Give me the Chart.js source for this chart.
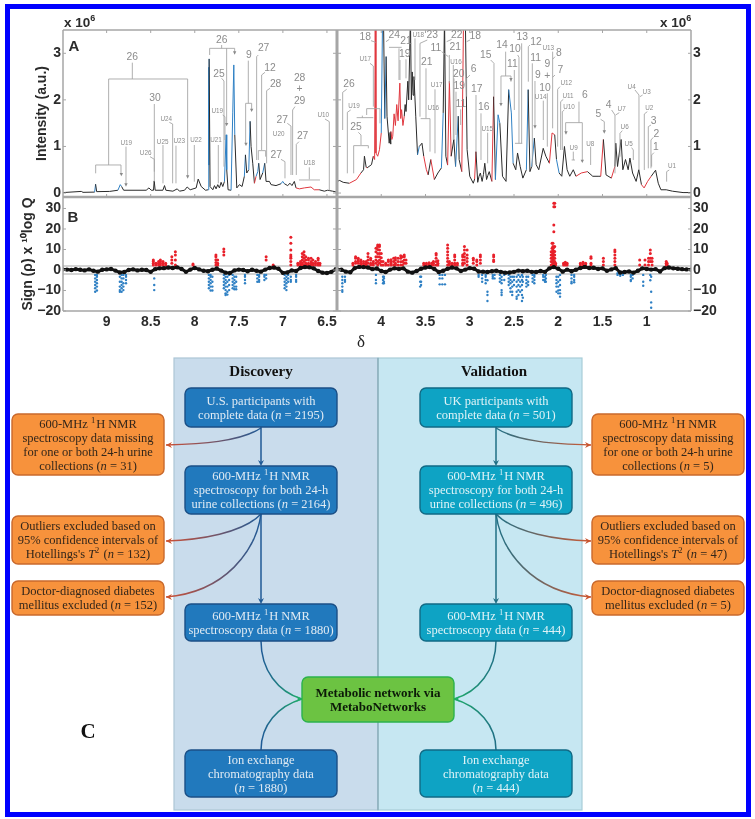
<!DOCTYPE html>
<html>
<head>
<meta charset="utf-8">
<style>
  html, body { margin: 0; background: #fff; }
  #page { position: relative; width: 755px; height: 819px; overflow: hidden; }
  #nmrChart { position: absolute; left: 0; top: 0; filter: blur(0.45px); }
  #overlay { position: absolute; left: 0; top: 0; filter: blur(0.35px); }
</style>
<script src="https://cdn.jsdelivr.net/npm/chart.js@4/dist/chart.umd.js"></script>
</head>
<body>
<div id="page">
  <canvas id="nmrChart" width="755" height="345" style="width:755px;height:345px"></canvas>
  <svg id="overlay" width="755" height="819" viewBox="0 0 755 819"></svg>
</div>
<script>
// tick labels
const xTicksLeft = [9, 8.5, 8, 7.5, 7, 6.5];
const xTicksRight = [4, 3.5, 3, 2.5, 2, 1.5, 1];
const yTicksA = [0, 1, 2, 3];
const yTicksB = [-20, -10, 0, 10, 20, 30];
const thresholds = [2, -2];

// panel A spectrum: [delta, intensity (x 10^6), correlation sign]
const specLeft = [
  [9.495,.01,0],[9.287,.035,0],[9.268,.015,0],[9.136,.02,0],[9.125,.19,-1],[9.113,.03,0],[8.966,.035,0],[8.872,.06,0],
  [8.845,.18,-1],[8.83,.14,-1],[8.807,.06,0],[8.551,.06,0],[8.52,.11,0],[8.494,.06,0],[8.468,.06,0],[8.46,.26,0],
  [8.449,.06,0],[8.362,.06,0],[8.343,.16,0],[8.328,.06,0],[8.248,.04,0],[8.199,.09,0],[8.173,.04,0],[8.116,.06,0],
  [8.086,.13,0],[8.052,.07,0],[7.984,.11,0],[7.961,.3,0],[7.927,.14,0],[7.878,.06,0],[7.848,.07,0],[7.842,2.7,-1],
  [7.84,.6,-1],[7.837,2.88,-1],[7.826,.14,0],[7.795,.07,0],[7.776,.16,0],[7.758,.09,0],[7.739,.18,0],[7.72,.11,0],
  [7.701,.23,0],[7.682,.14,0],[7.663,.25,0],[7.644,1.25,-1],[7.637,.5,-1],[7.622,.07,0],[7.588,.06,0],[7.569,1.72,-1],
  [7.557,2.75,-1],[7.546,1.25,-1],[7.523,.11,0],[7.493,.18,0],[7.463,.14,0],[7.437,.36,0],[7.425,.82,-1],[7.41,.43,0],
  [7.387,.5,0],[7.372,1.54,-1],[7.361,1,0],[7.342,.64,0],[7.323,.21,0],[7.304,.36,1],[7.285,.46,-1],[7.274,.64,-1],
  [7.259,.29,0],[7.229,.43,0],[7.206,.64,-1],[7.191,.25,0],[7.153,.25,0],[7.134,.18,0],[7.078,.16,0],[7.021,.2,0],
  [7.002,.25,-1],[6.983,.2,-1],[6.946,.16,0],[6.919,.21,0],[6.897,.16,0],[6.87,.25,0],[6.851,.11,0],[6.813,.09,1],
  [6.757,.11,1],[6.681,.13,1],[6.644,.07,1],[6.587,.07,1],[6.53,.04,0],[6.492,.06,0],[6.436,.04,0],[6.387,.02,0]
];
const specRight = [
  [4.5,.25,0],[4.47,.27,0],[4.43,.23,0],[4.36,.21,0],[4.28,.29,1],[4.23,.43,1],[4.2,.5,0],[4.19,.79,0],[4.17,.55,0],
  [4.16,.54,1],[4.11,.61,0],[4.09,.79,0],[4.075,.72,1],[4.068,3.8,1],[4.06,.86,1],[4.04,.79,1],[4.02,.93,1],[4,1.29,1],
  [3.985,3.8,-1],[3.975,3.8,0],[3.96,1.6,0],[3.945,2.93,-1],[3.935,1.65,0],[3.91,1.07,0],[3.9,1.3,0],[3.895,1.05,0],[3.89,1.32,0],
  [3.88,1.15,1],[3.87,1.22,1],[3.855,1.7,1],[3.84,1.45,1],[3.825,1.9,1],[3.81,1.55,1],[3.79,2.36,1],[3.78,1.6,1],[3.77,1.79,1],
  [3.755,1.45,1],[3.74,1.65,1],[3.73,1.9,0],[3.72,1.75,0],[3.7,2.4,0],[3.69,2,0],[3.68,2.9,0],[3.67,3.8,0],[3.66,2,0],[3.65,2.6,0],
  [3.64,2.1,0],[3.63,2.5,0],[3.61,1.65,0],[3.59,.82,0],[3.57,1,-1],[3.54,1.07,0],[3.52,.79,0],[3.49,.5,1],[3.47,.39,1],[3.44,.72,0],
  [3.4,.29,1],[3.36,.43,0],[3.32,.54,0],[3.3,1.72,-1],[3.285,3.8,0],[3.27,.79,0],[3.25,.6,0],[3.23,2.4,1],[3.21,.79,1],
  [3.18,1.15,0],[3.16,.57,0],[3.13,1.65,-1],[3.12,.72,0],[3.09,.46,0],[3.07,3.8,1],[3.05,3.8,1],[3.03,.93,0],[3,.36,0],
  [2.96,.21,0],[2.945,.3,0],[2.93,.89,1],[2.91,.23,0],[2.895,.36,0],[2.88,.43,0],[2.86,.25,0],[2.845,.4,0],[2.83,.64,0],[2.81,.29,0],
  [2.795,.38,0],[2.78,.46,0],[2.75,.25,0],[2.73,2.07,1],[2.71,.29,0],[2.68,1.68,-1],[2.66,1.5,-1],[2.63,.36,0],[2.59,.25,0],[2.56,2.22,0],
  [2.53,1.72,-1],[2.51,.64,-1],[2.48,.5,0],[2.46,.86,0],[2.43,.57,0],[2.4,.32,0],[2.36,.5,0],[2.34,2.22,-1],[2.32,.46,0],[2.3,.57,0],
  [2.27,1.18,-1],[2.25,.61,0],[2.22,.5,0],[2.17,.96,0],[2.14,.79,0],[2.1,.64,0],[2.07,1.29,1],[2.04,1.25,1],[2.02,.72,0],[1.99,.43,-1],
  [1.96,.36,0],[1.93,1,0],[1.9,.5,0],[1.87,.36,0],[1.83,.5,0],[1.8,.36,0],[1.74,.43,1],[1.67,.46,1],[1.61,.36,0],[1.55,.36,0],
  [1.52,.36,0],[1.49,1.15,1],[1.46,.39,0],[1.4,.32,0],[1.36,.57,1],[1.35,1.07,0],[1.33,.57,0],[1.29,1.15,0],[1.27,.5,0],
  [1.24,.72,0],[1.21,.5,0],[1.19,.75,0],[1.16,.43,0],[1.12,.25,0],[1.09,.5,0],[1.06,.18,0],[1.03,.11,1],[.99,.25,1],[.95,.36,1],
  [.9,.49,0],[.87,.21,0],[.84,.07,0],[.78,.07,0],[.71,.04,0],[.59,.01,0],[.5,.01,0]
];

// panel B: black band [delta, value]
const bandLeft = [
  [9.5,.3],[9.45,.2],[9.4,0],[9.35,.4],[9.3,.1],[9.25,-.2],[9.2,.3],[9.15,-.4],[9.1,-.8],[9.05,.1],[9,.3],[8.95,.5],[8.9,-.3],
  [8.85,-1.2],[8.8,-1],[8.75,0],[8.7,.3],[8.65,-.2],[8.6,.1],[8.55,0],[8.5,-.9],[8.45,.4],[8.4,.8],[8.35,.9],[8.3,1.2],[8.25,1],
  [8.2,1.3],[8.15,.5],[8.1,-.9],[8.05,.2],[8,1],[7.95,.3],[7.9,-.4],[7.85,-.6],[7.8,.1],[7.75,.7],[7.7,-.3],[7.65,-1.3],[7.6,-1.5],
  [7.55,-.2],[7.5,.2],[7.45,0],[7.4,-.6],[7.35,.1],[7.3,-.4],[7.25,-.8],[7.2,.2],[7.15,1],[7.1,1.2],[7.05,.6],[7,-1.4],[6.95,-1.2],
  [6.9,-.2],[6.85,-.5],[6.8,1],[6.75,1.4],[6.7,1.3],[6.65,.8],[6.6,-.5],[6.55,-1.3],[6.5,-1.5],[6.45,-.9],[6.4,.4]
];
const bandRight = [
  [4.5,.3],[4.45,.1],[4.4,-.8],[4.35,-1.1],[4.3,.9],[4.25,1.5],[4.2,1.4],[4.15,1.2],[4.1,.4],[4.05,.7],[4,-.5],[3.95,-1],[3.9,.2],
  [3.85,.8],[3.8,.5],[3.75,.8],[3.7,-.8],[3.65,-1.3],[3.6,-.5],[3.55,.6],[3.5,1.2],[3.45,1.4],[3.4,.5],[3.35,-1],[3.3,-.4],[3.25,.6],
  [3.2,1.2],[3.15,.8],[3.1,-.5],[3.05,.2],[3,.9],[2.95,.6],[2.9,-.7],[2.85,-.8],[2.8,-1],[2.75,-.6],[2.7,-.4],[2.65,-.9],[2.6,-1.3],
  [2.55,-1.2],[2.5,-.9],[2.45,-.3],[2.4,-.6],[2.35,-.4],[2.3,-.9],[2.25,-1],[2.2,-.5],[2.15,-.9],[2.1,.8],[2.05,1.4],[2,.6],[1.95,-.8],
  [1.9,.2],[1.85,-.6],[1.8,.1],[1.75,1],[1.7,1.5],[1.65,1],[1.6,1.1],[1.55,.5],[1.5,.8],[1.45,-.4],[1.4,.3],[1.35,.9],[1.3,-1.2],
  [1.25,-1],[1.2,-.7],[1.15,-1.3],[1.1,-.4],[1.05,.8],[1,.5],[.95,.2],[.9,.4],[.85,-.7],[.8,.9],[.75,1.2],[.7,.8],[.65,.6],[.6,.4],
  [.55,.3],[.5,.2]
];

// panel B: positive and negative columns [delta, [values]]
const posLeft = [
  [8.47,[2.4,3.3,4.1,4.9]],[8.44,[2.4,3.3]],[8.41,[2.4,3.3,4.1]],[8.39,[2.4,3.3,4.1,4.9]],[8.36,[2.4,3.3,4.1]],[8.33,[2.4,3.3]],
  [8.26,[3.3,4.9,6.5]],[8.22,[2.4,4.9,7.3,8.9]],[8.02,[2.4,2.9]],[7.76,[2.4,3.6,5,6.5,7.3]],[7.74,[2.4,3.3,4.9]],[7.67,[7.3,8.9,10.2]],
  [7.19,[4.9,6.5]],[7.11,[2,2.4]],[6.91,[2.4,4.1,5.7,6.5,7.3,9.8,13,16]],[6.83,[2.4,3.3]],[6.8,[2.4,3.3,4.1]],[6.78,[2.4,3.3,4.9,6.5,8.1]],
  [6.76,[2.4,4.1,5.7,7.3,8.9]],[6.74,[2.4,3.3,4.9,6.5]],[6.71,[2.4,3.3,4.9,5.7]],[6.68,[2.4,3.3,4.1,5.7]],[6.66,[2.4,3.3,4.9]],
  [6.63,[2.4,3.3,4.1]],[6.6,[2.4,3.3,4.9,5.7]],[6.58,[2.4,3.3]]
];
const posRight = [
  [4.32,[2.4,3.3]],[4.29,[3.3,4.1,5.7,6.5]],[4.26,[3.3,4.1,4.9,5.7]],[4.23,[2.4,3.3,4.1,4.9]],[4.2,[2.4,3.3,4.1]],[4.17,[2.4,3.3,4.1]],
  [4.15,[3.3,4.9,6.5,8.1]],[4.12,[2.4,3.3,4.9,5.7]],[4.09,[2.4,3.3,4.1]],[4.06,[3.3,4.9,6.5,8.9,10.6]],[4.04,[2.4,4.1,6.5,8.1,10,11.4,12.2]],
  [4.02,[3.3,4.9,6.5,8.1,9.8,11.4,12.2]],[4,[2.4,4.1,6,8.1]],[3.98,[2.4,4.1]],[3.95,[2.4,3.3]],[3.92,[2.4,4.1,4.9]],[3.89,[2.4,3.3,4.1,5]],
  [3.86,[2.4,4.1,5.7]],[3.84,[2.4,3.3,4.9,6]],[3.81,[2.4,4.1,5.7]],[3.78,[2.4,4,5.7,7]],[3.76,[2.4,4.1,6.5]],[3.74,[3.3,4.9,6.5,7.3]],[3.72,[3.3,4.9]],
  [3.52,[2.4,3.3]],[3.49,[2.4,3.3]],[3.46,[2.6,3.5]],[3.43,[2.4,3.3]],[3.41,[2.4,3.3,4.1]],[3.38,[2.4,4.1,5.7,7.3,8.1]],[3.36,[2.4,3.3,4.5]],
  [3.25,[2.4,4.1,5.7,7.3,8.9,10.6,12.2]],[3.23,[2.4,3.3,4.1]],[3.2,[2.4,3.3]],[3.17,[2.4,3.3,4.9,6.5,7.3]],[3.14,[2.4,3.3]],
  [3.08,[2.4,3.3,4.9,6.5,7.3]],[3.06,[3.3,4.9,6.5,8.1,9.8,11.4]],[3.03,[2.4,4.1,5.7,7.3,9.8]],[2.96,[3.3,4.9,5.7]],[2.92,[2.4,4.1,4.9]],
  [2.88,[3.3,4.9,6.5,7.3]],[2.73,[4.1,4.9,6.5,7.3]],[2.08,[2.4,4.1,5.7,7.3,8.9]],[2.07,[2.4,4,5.7,7.3,8.9,10.6,13]],[2.06,[3.3,4.9,6.5,8.1,9.8,11.4,13]],
  [2.05,[2.4,4.1,5.7,7.3,9,11,18.7,22,30.9,32.5]],[2.04,[2.4,4.1,5.7,7.3,9,11.4,30.9,32.5]],[2.03,[2.4,3.3]],[1.94,[2.4,3.3]],[1.92,[2.4,3.3,3.8]],
  [1.9,[2.4,3.3]],[1.75,[2.4,3.3]],[1.72,[2.4,3.3,3.8]],[1.69,[2.4,3.3]],[1.63,[2.4,3.3,5.7,6.5]],[1.49,[2.4,4.1,5.7]],[1.36,[2.4,4.1,5.7,7.3,8.9,9.8]],
  [1.08,[2.4,4.9]],[1.02,[2.4,4.9]],[.98,[2.4,4.1,5.7]],[.96,[4.1,5.7,8.1,9.8]],[.94,[2.4,4.1,5.7]],[.78,[2.4,3.3,4.1]],[.77,[2.4,3.3]]
];
const negLeft = [
  [9.13,[-2.4,-4.1,-5.7,-7.3,-8.9,-10.6]],[9.11,[-2.4,-3.3,-4.9,-6.5,-8.1,-10]],[8.85,[-3.3,-5.7,-8.1,-9.8,-10.6]],[8.83,[-2.4,-4.1,-5.7,-7.3,-8.9,-10.6]],
  [8.81,[-2.4,-4.1,-6.5,-8.1,-9.8]],[8.78,[-2.4,-3.3,-4.9,-6.5]],[8.46,[-4.1,-7.3,-9.8]],[7.84,[-2.4,-4.1,-5.7,-7.3,-8.9]],[7.82,[-2.4,-3.3,-4.9,-6.5,-8.1,-10]],
  [7.8,[-3.3,-5.7,-8.1,-10]],[7.67,[-2.4,-4.1,-5.7,-7.3,-8.9]],[7.65,[-3.3,-4.9,-6.5,-8.1,-9.8,-11.4,-12.2]],[7.63,[-3.3,-5.7,-8.1,-10.6,-12]],[7.61,[-2.4,-4.9,-7.3,-9.8]],
  [7.57,[-2.4,-4.1,-5.7,-7.3,-8.9]],[7.55,[-3.3,-4.9,-6.5,-8.1,-9.4]],[7.53,[-3.3,-5.7,-8.1,-9.4]],[7.43,[-2.4,-3.3,-4.9,-6.5]],[7.29,[-2.4,-4.1,-5.7]],
  [7.27,[-2.4,-3.3,-4.9,-5.7]],[7.21,[-2.4,-3.3,-4.9]],[7.19,[-2.4,-4.1]],[6.98,[-2.4,-4.1,-5.7,-7.3,-8.9]],[6.96,[-3.3,-4.9,-6.5,-8.1,-9.8]],[6.94,[-2.4,-4.1,-5.7]],
  [6.91,[-3.3,-4.9,-5.7]],[6.85,[-2.4,-3.3,-4.9,-5.7]]
];
const negRight = [
  [4.44,[-3.3,-4.9,-6.5,-8.1,-9.8,-10.6]],[4.41,[-3.3,-4.9,-5.7]],[4.06,[-2.4,-4.9,-6.5]],[3.98,[-3.3,-4.9,-6.5]],[3.97,[-3.3,-4.1,-5.7,-6.5]],
  [3.56,[-3.3,-5.7,-8.1]],[3.55,[-3.3,-5.7,-7.3]],[3.34,[-2.4,-4.1,-7]],[3.31,[-2.4,-4.1,-7]],[3.28,[-2.4,-7]],[2.9,[-2.4,-3.3]],[2.86,[-2.4,-4.1,-5.7]],
  [2.82,[-2.4,-3.3,-4.9,-6.5]],[2.8,[-5,-10.6,-12.2,-15.1]],[2.74,[-2.4,-3.3,-4.1]],[2.72,[-2.4,-4.1]],[2.66,[-2.4,-4.1,-5.7]],[2.64,[-3.3,-4.9,-6.5,-9.8,-11,-12.2]],
  [2.61,[-2.4,-4.9]],[2.56,[-2.4,-4.1,-5.7,-7.3]],[2.54,[-3.3,-4.9,-6.5,-8.9,-10.6]],[2.52,[-3.3,-5.7,-8.1,-10.6,-12.2]],[2.5,[-3.3,-4.9,-7.3]],
  [2.47,[-3.3,-5.7,-8.1,-10.6,-13,-14]],[2.45,[-2.4,-4.9,-7.3,-9.8,-12.2]],[2.43,[-3.3,-5.7,-8.1,-10.6]],[2.41,[-2.4,-4.9,-7.3,-9.8,-12.2,-15.1]],[2.4,[-3.3,-5.7,-13.5]],
  [2.36,[-3.3,-4.9,-6.5,-8.1]],[2.34,[-3.3,-5.7,-7.3]],[2.29,[-2.4,-4.1,-5.7]],[2.27,[-2.4,-3.3,-4.9,-6.5]],[2.17,[-2.4,-3.3,-4.9]],[2.15,[-3.3,-4.9,-5.7]],[2.14,[-2.4,-4.1,-5.7]],
  [2.02,[-3.3,-4.9,-6.5,-8.1,-10.6]],[2,[-3.3,-5.7,-8.1,-10,-11.4]],[1.98,[-2.4,-4.9,-7.3,-9.8,-11.4,-13]],[1.85,[-2.4,-4.1,-5.7,-6.5]],[1.82,[-2.4,-3.3,-4.9,-6]],
  [1.33,[-1.6,-2.4]],[1.3,[-1.9,-2.8]],[1.27,[-1.6,-2.4]],[1.18,[-2.4,-3.3,-4.9,-5.4]],[1.16,[-2.4,-4.1]],[1.04,[-2.4,-5.7,-7.7]],[.96,[-2.4,-5]],[.95,[-3.3,-10.6,-15.8,-18.4]]
];

const RED = "#e8202a";
const BLUE = "#2f80c4";
const GREY = "#a6a6a6";
const signColour = { "0": "#2a2a2a", "1": "#e0383f", "-1": "#2f80c4" };

const pairPoints = rows => rows.map(r => ({ x: r[0], y: r[1] }));
const columnPoints = rows => rows.flatMap(r => r[1].map(v => ({ x: r[0], y: v })));

function specDataset(rows, xAxisID) {
  return {
    data: pairPoints(rows),
    xAxisID,
    yAxisID: "yA",
    showLine: true,
    borderWidth: 1,
    pointRadius: 0,
    borderColor: signColour["0"],
    segment: { borderColor: ctx => signColour[rows[ctx.p1DataIndex][2]] },
  };
}

function pointDataset(points, xAxisID, colour, radius) {
  return {
    data: points,
    xAxisID,
    yAxisID: "yB",
    showLine: false,
    pointRadius: radius,
    pointBorderWidth: 0,
    pointBackgroundColor: colour,
  };
}

function bandDataset(rows, xAxisID) {
  return {
    data: pairPoints(rows),
    xAxisID,
    yAxisID: "yB",
    showLine: true,
    borderWidth: 3,
    borderColor: "#111",
    pointRadius: 2.2,
    pointBorderWidth: 0,
    pointBackgroundColor: "#111",
  };
}

const labelFont = { family: "'Liberation Sans', Arial, sans-serif", size: 14, weight: "bold" };

function xScale(min, max, ticks, weight) {
  return {
    type: "linear",
    position: "bottom",
    stack: "delta",
    stackWeight: weight,
    reverse: true,
    min,
    max,
    grid: { display: false, drawTicks: false },
    border: { display: false },
    afterBuildTicks: s => { s.ticks = ticks.map(value => ({ value })); },
    afterFit: s => { s.height = 22; },
    ticks: { font: labelFont, color: "#2b2b2b", padding: 3, autoSkip: false, maxRotation: 0, callback: v => String(v) },
  };
}

function yScale(position, stack, min, max, ticks, weight, width, title) {
  const opts = {
    type: "linear",
    position,
    stack,
    stackWeight: weight,
    min,
    max,
    grid: { display: false, drawTicks: false },
    border: { display: false },
    afterBuildTicks: s => { s.ticks = ticks.map(value => ({ value })); },
    afterFit: s => { s.width = width; },
    ticks: { font: labelFont, color: "#2b2b2b", padding: 2, autoSkip: false, callback: v => String(v).replace("-", "\u2212") },
  };
  if (title) opts.title = title;
  return opts;
}

const framePlugin = {
  id: "frame",
  beforeDatasetsDraw(chart) {
    const { ctx, scales } = chart;
    ctx.save();
    ctx.strokeStyle = "#c4c4c4";
    ctx.lineWidth = 1.5;
    thresholds.forEach(t => {
      const y = scales.yB.getPixelForValue(t);
      ctx.beginPath();
      ctx.moveTo(scales.xL.left, y);
      ctx.lineTo(scales.xR.right, y);
      ctx.stroke();
    });
    ctx.restore();
  },
  afterDatasetsDraw(chart) {
    const { ctx, scales } = chart;
    const { xL, xR, yA, yB } = scales;
    const line = (x1, y1, x2, y2, w) => {
      ctx.lineWidth = w;
      ctx.beginPath();
      ctx.moveTo(x1, y1);
      ctx.lineTo(x2, y2);
      ctx.stroke();
    };
    ctx.save();
    ctx.strokeStyle = GREY;
    line(xL.left, yA.top, xR.right, yA.top, 1.5);
    line(xL.left, yA.bottom, xR.right, yA.bottom, 2.5);
    line(xL.left, yB.bottom, xR.right, yB.bottom, 1.5);
    line(xL.left, yA.top, xL.left, yB.bottom, 1.5);
    line(xR.right, yA.top, xR.right, yB.bottom, 1.5);
    line(xL.right, yA.top, xL.right, yB.bottom, 3);
    [xL, xR].forEach(sc => sc.ticks.forEach(t => {
      const x = sc.getPixelForValue(t.value);
      line(x, yA.top, x, yA.top + 3, 1);
      line(x, yA.bottom, x, yA.bottom - 3, 1);
    }));
    [yA, yB].forEach(sc => sc.ticks.forEach(t => {
      const y = sc.getPixelForValue(t.value);
      line(xL.left, y, xL.left + 3, y, 1);
      line(xL.right - 4, y, xL.right + 4, y, 1);
      line(xR.right, y, xR.right - 3, y, 1);
    }));
    ctx.restore();
  },
};

new Chart(document.getElementById("nmrChart"), {
  type: "scatter",
  data: {
    datasets: [
      bandDataset(bandLeft, "xL"),
      bandDataset(bandRight, "xR"),
      pointDataset(columnPoints(posLeft), "xL", RED, 1.5),
      pointDataset(columnPoints(posRight), "xR", RED, 1.5),
      pointDataset(columnPoints(negLeft), "xL", BLUE, 1.2),
      pointDataset(columnPoints(negRight), "xR", BLUE, 1.2),
      specDataset(specLeft, "xL"),
      specDataset(specRight, "xR"),
    ],
  },
  options: {
    responsive: false,
    animation: false,
    events: [],
    layout: { padding: { left: 5, right: 14, top: 30, bottom: 12 } },
    plugins: { legend: { display: false }, tooltip: { enabled: false } },
    scales: {
      xL: xScale(6.386, 9.495, xTicksLeft, 274),
      xR: xScale(0.5, 4.5, xTicksRight, 354),
      yB: yScale("left", "left", -20, 35.6, yTicksB, 114, 58, {
        display: true, text: "Sign (\u03c1) x \u00b9\u2070log Q", font: { family: labelFont.family, size: 14, weight: "bold" }, color: "#2b2b2b", padding: { top: 15 },
      }),
      yA: yScale("left", "left", -0.085, 3.5, yTicksA, 167, 58, {
        display: true, text: "Intensity (a.u.)", font: { family: labelFont.family, size: 14, weight: "bold" }, color: "#2b2b2b", padding: { top: 29 },
      }),
      yAr: yScale("right", "right", -0.085, 3.5, yTicksA, 167, 50),
      yBr: yScale("right", "right", -20, 35.6, yTicksB, 114, 50),
    },
  },
  plugins: [framePlugin],
});

// peak annotations of panel A, laid out at 3x for readability
const leftPeakLabels = [
  ["26",397,170],["U19",379,428],["U26",437,458],["30",465,292],["U25",488,425],["U24",499,357],["U23",538,423],["U22",588,418],
  ["26",665,120],["25",657,220],["U19",652,333],["U21",648,420],["9",747,165],["27",791,142],["12",810,204],["28",827,250],
  ["28",899,232],["+",899,267],["29",899,302],["27",847,358],["U20",836,401],["27",908,408],["27",829,463],["U18",928,489],["U10",970,344],
];
const leftLeaders = [
  "M397,188V237M326,237H563M326,237V495M563,237V530M287,520V495H363V520","M378,440V555","M450,470L463,478V515","M463,312V545","M489,435V550",
  "M508,367L518,372V550","M528,437V550","M583,435V545","M665,135V145M629,145H704M629,145V165M704,145V160M680,145V370","M665,235L672,243V500",
  "M668,345L675,350V420","M655,435V550","M745,182V310M737,310H755V330M737,310V430","M775,165L770,170V480","M795,217L785,225V450M775,452H797V470M775,452V480",
  "M810,265L800,272V490","M885,320L878,330V525","M862,370L873,378V525","M889,433V525M897,425L889,433","M843,478L855,485V535","M928,502V538M897,540H960","M975,357L988,365V572",
];
const leftArrows = [[364,525],[378,556],[563,532],[680,375],[704,160],[755,332],[738,434]];
const rightPeakLabels = [
  ["26",57,250],["U19",72,318],["25",78,380],["U17",106,177],["18",106,110],["24",193,105],["21",228,122],["19",224,160],["U18",265,103],
  ["23",307,105],["21",290,184],["U17",320,254],["U16",310,322],["11",318,142],["21",376,140],["22",380,105],["U16",378,184],["20",386,221],
  ["19",388,258],["11",393,312],["18",436,108],["6",431,207],["17",440,265],["16",461,320],["15",467,165],["U15",472,385],["14",516,135],
  ["10",555,145],["13",577,110],["11",547,190],["12",618,124],["11",617,173],["9",624,225],["9",652,190],["+",652,226],["10",645,262],["U14",632,289],
  ["U13",655,143],["8",687,157],["7",691,210],["U12",709,248],["U11",714,287],["U10",717,319],["6",765,283],["U9",731,442],["U8",781,430],
  ["5",805,340],["4",836,315],["U7",875,327],["U6",884,380],["U5",896,432],["U4",905,259],["U3",950,275],["U2",958,323],["3",971,361],
  ["2",979,400],["1",978,440],["U1",1026,498],
];
const rightLeaders = [
  "M50,268L38,277V390","M62,330L52,337V520","M85,397L93,405V435M71,437H115V445M71,437V520","M120,190L130,198V320M110,326H150V370M110,326V345M80,353H130M97,347V353",
  "M123,122L137,127","M178,118L168,125","M177,142H215M207,145V240","M228,178V235M210,180V240","M255,115V240","M292,120L270,130V350","M288,205V355M272,356H300V455",
  "M315,268V460","M335,155L355,170","M358,165V250","M365,118L350,125","M370,195V420","M372,235V420","M378,275V405","M392,328V375","M420,120L410,125","M420,225L410,235V290",
  "M438,285V455","M453,340V480","M482,180L492,190V290","M473,398V490","M527,155V228M513,228H543V245M513,228V310","M563,165L567,172V430","M575,130V430M555,430H577","M553,210V330",
  "M600,135L595,140V245","M607,190V500","M615,243V380","M640,302V420","M652,280V440","M668,155V385M675,170L668,178M675,225L668,232","M690,260L683,268V440","M700,298L692,305V450",
  "M703,330L697,335V450","M747,305V368M707,368H757V485M707,368V400","M730,455V480M725,480H735","M782,440V495","M812,358L823,365V395","M845,330L855,345V520","M868,338L857,345","M877,392L870,400V470",
  "M905,443L910,450V480","M915,270L927,285V510","M938,285L930,290","M952,335L943,342V510","M963,375L955,380V505","M970,412L963,420V505","M972,458L965,465V500","M1018,510L1010,515V545",
];
const rightArrows = [[543,240],[513,315],[615,382],[708,400],[757,485],[823,397]];

function annotationGroup(labels, leaders, arrows, dx) {
  const lines = leaders.map(d => `<path d="${d}" fill="none" stroke="#a2a2a2" stroke-width="2.6"/>`).join("");
  const marks = arrows.map(a => `<path d="M${a[0] - 5},${a[1] - 6}h10l-5,10z" fill="#8a8a8a"/>`).join("");
  const texts = labels.map(l => {
    const small = l[0][0] === "U";
    return `<text x="${l[1]}" y="${l[2]}" font-size="${small ? 19 : 31}" fill="#8c8c8c" text-anchor="middle" dominant-baseline="central">${l[0]}</text>`;
  }).join("");
  return `<g transform="translate(${dx},0) scale(0.3333)" font-family="'Liberation Sans',Arial,sans-serif">${lines}${marks}${texts}</g>`;
}

// flow chart
const blueBoxes = [
  [185,388,152,39,["U.S. participants with","complete data (<i>n</i> = 2195)"]],
  [185,466,152,48,["600-MHz <s>1</s>H NMR","spectroscopy for both 24-h","urine collections (<i>n</i> = 2164)"]],
  [185,604,152,37,["600-MHz <s>1</s>H NMR","spectroscopy data (<i>n</i> = 1880)"]],
  [185,750,152,47,["Ion exchange","chromatography data","(<i>n</i> = 1880)"]],
];
const tealBoxes = [
  [420,388,152,39,["UK participants with","complete data (<i>n</i> = 501)"]],
  [420,466,152,48,["600-MHz <s>1</s>H NMR","spectroscopy for both 24-h","urine collections (<i>n</i> = 496)"]],
  [420,604,152,37,["600-MHz <s>1</s>H NMR","spectroscopy data (<i>n</i> = 444)"]],
  [420,750,152,47,["Ion exchange","chromatography data","(<i>n</i> = 444)"]],
];
const orangeBoxes = [
  [12,414,152,61,["600-MHz <s>1</s>H NMR","spectroscopy data missing","for one or both 24-h urine","collections (<i>n</i> = 31)"]],
  [12,516,152,48,["Outliers excluded based on","95% confidence intervals of","Hotellings's <i>T</i><s>2</s> (<i>n</i> = 132)"]],
  [12,581,152,34,["Doctor-diagnosed diabetes","mellitus excluded (<i>n</i> = 152)"]],
  [592,414,152,61,["600-MHz <s>1</s>H NMR","spectroscopy data missing","for one or both 24-h urine","collections (<i>n</i> = 5)"]],
  [592,516,152,48,["Outliers excluded based on","95% confidence intervals of","Hotellings's <i>T</i><s>2</s> (<i>n</i> = 47)"]],
  [592,581,152,34,["Doctor-diagnosed diabetes","mellitus excluded (<i>n</i> = 5)"]],
];

function markup(line) {
  return line
    .replace(/<i>(.*?)<\/i>/g, '<tspan font-style="italic">$1</tspan>')
    .replace(/<s>(.*?)<\/s>/g, '<tspan dy="-4" font-size="8.5">$1</tspan><tspan dy="4">\u200a</tspan>');
}

function box(b, fill, stroke, textFill, weight, size) {
  const [x, y, w, h, lines] = b;
  const step = 14;
  const first = y + h / 2 - (lines.length - 1) * step / 2;
  const texts = lines.map((l, i) => `<text x="${x + w / 2}" y="${first + i * step}" text-anchor="middle" dominant-baseline="central" fill="${textFill}" font-size="${size}" font-weight="${weight}">${markup(l)}</text>`).join("");
  return `<rect x="${x}" y="${y}" width="${w}" height="${h}" rx="6" fill="${fill}" stroke="${stroke}" stroke-width="1.4"/>${texts}`;
}

function grad(id, x1, x2, from, to) {
  return `<linearGradient id="${id}" gradientUnits="userSpaceOnUse" x1="${x1}" y1="0" x2="${x2}" y2="0"><stop offset="0" stop-color="${from}"/><stop offset="1" stop-color="${to}"/></linearGradient>`;
}

function vArrow(x, y1, y2, colour) {
  return `<path d="M${x},${y1}V${y2 - 3}" stroke="${colour}" stroke-width="1.5" fill="none"/><path d="M${x - 3},${y2 - 6}L${x},${y2 - 4}L${x + 3},${y2 - 6}L${x},${y2}z" fill="${colour}"/>`;
}

function curve(d, stroke, head) {
  return `<path d="${d}" stroke="url(#${stroke})" stroke-width="1.5" fill="none"/>${head}`;
}

const headL = (x, y, c) => `<path d="M${x + 6},${y - 3}L${x + 4},${y}L${x + 6},${y + 3}L${x},${y}z" fill="${c}"/>`;
const headR = (x, y, c) => `<path d="M${x - 6},${y - 3}L${x - 4},${y}L${x - 6},${y + 3}L${x},${y}z" fill="${c}"/>`;

const ARROW_RED = "#c9552f";
const ARROW_GREEN = "#1fae68";

const flowChart = `
  <defs>
    ${grad("gBlueRed", 261, 166, "#1f5a96", "#cf4f35")}
    ${grad("gTealRed", 496, 591, "#1f6f85", "#cf5a35")}
    ${grad("gBlueGreen", 261, 302, "#1f5a96", "#1fae68")}
    ${grad("gTealGreen", 496, 454, "#1f6f85", "#1fae68")}
  </defs>
  <rect x="174" y="358" width="204" height="452" fill="#c9dcec" stroke="#adc6d6" stroke-width="1.2"/>
  <rect x="378" y="358" width="204" height="452" fill="#c6e7f2" stroke="#a9cdd8" stroke-width="1.2"/>
  <path d="M378,358V810" stroke="#83a6b4" stroke-width="1.2"/>
  <g font-family="'Liberation Serif','Times New Roman',serif">
    <text x="261" y="371" text-anchor="middle" dominant-baseline="central" font-size="15" font-weight="bold" fill="#111">Discovery</text>
    <text x="494" y="371" text-anchor="middle" dominant-baseline="central" font-size="15" font-weight="bold" fill="#111">Validation</text>
    ${vArrow(261, 427, 466, "#1f5a96")}
    ${vArrow(261, 514, 604, "#1f5a96")}
    ${vArrow(496, 427, 466, "#1f6f85")}
    ${vArrow(496, 514, 604, "#1f6f85")}
    ${curve("M261,428C240,442 200,444 166,445", "gBlueRed", headL(166, 445, ARROW_RED))}
    ${curve("M261,514C243,533 200,540 166,541", "gBlueRed", headL(166, 541, ARROW_RED))}
    ${curve("M261,514C256,550 226,592 166,597", "gBlueRed", headL(166, 597, ARROW_RED))}
    ${curve("M496,428C517,442 557,444 591,445", "gTealRed", headR(591, 445, ARROW_RED))}
    ${curve("M496,514C514,533 557,540 591,541", "gTealRed", headR(591, 541, ARROW_RED))}
    ${curve("M496,514C501,550 531,592 591,597", "gTealRed", headR(591, 597, ARROW_RED))}
    ${curve("M261,641C261,670 278,692 302,699", "gBlueGreen", headR(302, 699, ARROW_GREEN))}
    ${curve("M261,750C261,725 278,706 302,699", "gBlueGreen", "")}
    ${curve("M496,641C496,670 478,692 454,699", "gTealGreen", headL(454, 699, ARROW_GREEN))}
    ${curve("M496,750C496,725 478,706 454,699", "gTealGreen", "")}
    ${blueBoxes.map(b => box(b, "#2179bd", "#1b4f86", "#dfeaf3", "normal", 12.5)).join("")}
    ${tealBoxes.map(b => box(b, "#0ea3c4", "#116a85", "#dff3f7", "normal", 12.5)).join("")}
    ${orangeBoxes.map(b => box(b, "#f7923c", "#c9692c", "#33261a", "normal", 12.5)).join("")}
    ${box([302, 677, 152, 45, ["Metabolic network via", "MetaboNetworks"]], "#6cc342", "#2bb24c", "#0c1a08", "bold", 13)}
    <text x="88" y="731" text-anchor="middle" dominant-baseline="central" font-size="21" font-weight="bold" fill="#111">C</text>
    <text x="361" y="341" text-anchor="middle" dominant-baseline="central" font-size="17" fill="#222">\u03b4</text>
  </g>`;

const panelMarks = `
  <g font-family="'Liberation Sans',Arial,sans-serif" font-weight="bold" fill="#2b2b2b">
    <text x="74" y="45" font-size="15" text-anchor="middle" dominant-baseline="central">A</text>
    <text x="73" y="216" font-size="15" text-anchor="middle" dominant-baseline="central">B</text>
    <text x="64" y="27" font-size="13.5">x 10<tspan dy="-6" font-size="9">6</tspan></text>
    <text x="660" y="27" font-size="13.5">x 10<tspan dy="-6" font-size="9">6</tspan></text>
  </g>`;

const frameBorder = `<rect x="7.5" y="6.5" width="741" height="808" fill="none" stroke="#0000ff" stroke-width="5"/>`;

document.getElementById("overlay").innerHTML =
  flowChart +
  annotationGroup(leftPeakLabels, leftLeaders, leftArrows, 0) +
  annotationGroup(rightPeakLabels, rightLeaders, rightArrows, 330) +
  panelMarks +
  frameBorder;
</script>
</body>
</html>
